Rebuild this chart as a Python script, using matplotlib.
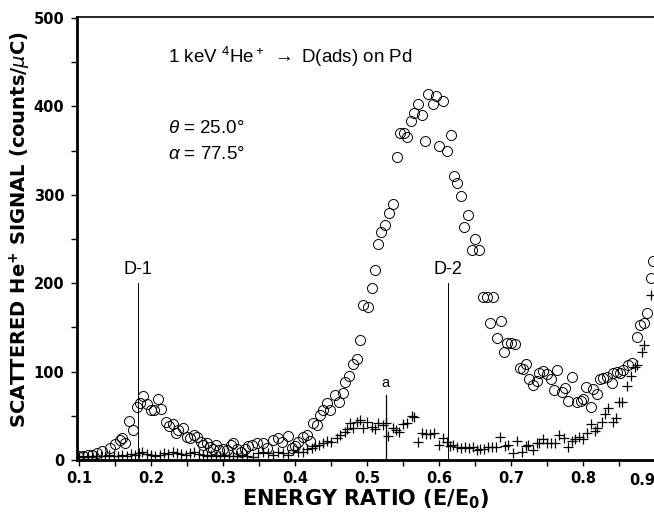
import matplotlib
matplotlib.use("Agg")
import matplotlib.pyplot as plt
from matplotlib.ticker import MultipleLocator

plt.rcParams['font.family'] = ['DejaVu Sans']
plt.rcParams['mathtext.fontset'] = 'custom'
plt.rcParams['mathtext.rm'] = 'Liberation Sans'
plt.rcParams['mathtext.it'] = 'Liberation Sans:italic'
plt.rcParams['mathtext.bf'] = 'Liberation Sans:bold'
ANN = ['Liberation Sans', 'DejaVu Sans']

# Circles: scattered signal with adsorbed deuterium
circ_x = [0.099, 0.106, 0.113, 0.118, 0.125, 0.132, 0.143, 0.150, 0.157, 0.160,
          0.164, 0.169, 0.175, 0.181, 0.185, 0.189, 0.194, 0.200, 0.204, 0.210,
          0.214, 0.221, 0.225, 0.231, 0.235, 0.238, 0.244, 0.250, 0.254, 0.260,
          0.264, 0.269, 0.272, 0.278, 0.282, 0.286, 0.290, 0.294, 0.300, 0.306,
          0.311, 0.314, 0.319, 0.325, 0.331, 0.335, 0.340, 0.347, 0.356, 0.361,
          0.369, 0.376, 0.382, 0.390, 0.396, 0.400, 0.404, 0.411, 0.417, 0.421,
          0.425, 0.431, 0.435, 0.439, 0.444, 0.449, 0.456, 0.461, 0.467, 0.469,
          0.475, 0.481, 0.486, 0.490, 0.494, 0.501, 0.507, 0.511, 0.515, 0.519,
          0.525, 0.531, 0.536, 0.542, 0.546, 0.551, 0.556, 0.561, 0.565, 0.571,
          0.576, 0.581, 0.585, 0.592, 0.596, 0.600, 0.606, 0.611, 0.617, 0.621,
          0.625, 0.631, 0.635, 0.640, 0.646, 0.650, 0.656, 0.661, 0.667, 0.671,
          0.675, 0.681, 0.686, 0.690, 0.694, 0.700, 0.706, 0.713, 0.717, 0.721,
          0.725, 0.731, 0.736, 0.739, 0.744, 0.750, 0.756, 0.760, 0.764, 0.771,
          0.775, 0.779, 0.785, 0.792, 0.797, 0.800, 0.804, 0.811, 0.814, 0.819,
          0.824, 0.828, 0.833, 0.840, 0.842, 0.847, 0.851, 0.856, 0.863, 0.868,
          0.875, 0.879, 0.885, 0.889, 0.894, 0.897]
circ_y = [5, 5, 6, 6, 8, 10, 14, 18, 23, 25,
          19, 44, 34, 60, 65, 72, 63, 56, 57, 69,
          58, 43, 38, 41, 30, 34, 36, 26, 25, 28,
          26, 20, 17, 19, 15, 13, 17, 11, 12, 11,
          17, 19, 13, 9, 12, 16, 17, 19, 19, 14,
          23, 25, 20, 27, 14, 16, 20, 26, 28, 22,
          42, 40, 51, 57, 64, 57, 73, 66, 76, 88,
          95, 109, 114, 136, 175, 173, 195, 215, 244, 258,
          266, 279, 290, 343, 370, 370, 365, 383, 392, 403,
          390, 361, 414, 403, 412, 355, 406, 350, 367, 321,
          313, 298, 264, 277, 238, 250, 238, 184, 184, 155,
          184, 138, 157, 122, 132, 132, 131, 104, 103, 109,
          92, 85, 89, 98, 101, 97, 92, 79, 102, 77,
          81, 67, 94, 66, 67, 69, 83, 60, 80, 75,
          92, 93, 94, 87, 98, 100, 98, 102, 107, 110,
          139, 153, 155, 166, 206, 225]

# Crosses: clean surface reference
cross_x = [0.100, 0.106, 0.112, 0.118, 0.124, 0.130, 0.136, 0.142, 0.148, 0.154,
           0.160, 0.166, 0.172, 0.178, 0.183, 0.188, 0.194, 0.200, 0.206, 0.212,
           0.218, 0.224, 0.230, 0.236, 0.242, 0.248, 0.254, 0.260, 0.266, 0.272,
           0.278, 0.284, 0.290, 0.296, 0.302, 0.308, 0.314, 0.320, 0.326, 0.333,
           0.342, 0.349, 0.356, 0.363, 0.369, 0.376, 0.383, 0.390, 0.397, 0.404,
           0.411, 0.417, 0.424, 0.428, 0.433, 0.439, 0.444, 0.450, 0.458, 0.463,
           0.469, 0.472, 0.476, 0.481, 0.486, 0.490, 0.494, 0.500, 0.507, 0.511,
           0.515, 0.522, 0.526, 0.529, 0.536, 0.540, 0.544, 0.550, 0.556, 0.562,
           0.565, 0.571, 0.576, 0.582, 0.588, 0.593, 0.600, 0.606, 0.611, 0.615,
           0.619, 0.625, 0.631, 0.636, 0.642, 0.647, 0.653, 0.657, 0.663, 0.668,
           0.674, 0.679, 0.685, 0.692, 0.696, 0.703, 0.708, 0.715, 0.721, 0.724,
           0.731, 0.736, 0.739, 0.744, 0.750, 0.756, 0.761, 0.767, 0.774, 0.779,
           0.785, 0.789, 0.794, 0.800, 0.806, 0.811, 0.817, 0.819, 0.826, 0.831,
           0.835, 0.842, 0.846, 0.850, 0.854, 0.861, 0.867, 0.872, 0.875, 0.882,
           0.885, 0.894]
cross_y = [3, 4, 3, 5, 4, 5, 4, 6, 5, 4,
           6, 5, 7, 6, 8, 9, 7, 6, 5, 6,
           8, 7, 9, 8, 7, 6, 8, 9, 7, 6,
           5, 6, 5, 4, 6, 5, 4, 5, 6, 5,
           3, 8, 9, 8, 6, 9, 8, 6, 11, 9,
           9, 12, 14, 16, 17, 19, 22, 20, 25, 28,
           32, 35, 42, 36, 43, 45, 36, 43, 37, 35,
           42, 40, 42, 27, 36, 34, 32, 41, 42, 50,
           49, 20, 31, 29, 29, 31, 17, 25, 20, 16,
           17, 15, 14, 15, 14, 15, 11, 13, 13, 15,
           15, 15, 26, 16, 17, 8, 22, 9, 16, 17,
           11, 19, 19, 24, 19, 19, 19, 28, 25, 15,
           22, 24, 26, 24, 31, 41, 33, 36, 43, 52,
           59, 43, 48, 66, 66, 84, 95, 105, 107, 122,
           130, 187]

# Axis tick labels
x_ticks = [0.1, 0.2, 0.3, 0.4, 0.5, 0.6, 0.7, 0.8]
x_ticklabels = ['0.1', '0.2', '0.3', '0.4', '0.5', '0.6', '0.7', '0.8']
y_ticks = [0, 100, 200, 300, 400, 500]
y_ticklabels = ['0', '100', '200', '300', '400', '500']

# Peak markers
d1_x, d1_top = 0.182, 200
d2_x, d2_top = 0.6125, 200
a_x, a_top = 0.526, 74

fig = plt.figure(figsize=(6.54, 5.15), dpi=100)
ax = fig.add_axes([0.1177, 0.1068, 0.8823, 0.8602])

ax.plot(circ_x, circ_y, linestyle='none', marker='o', markersize=7.2,
        markerfacecolor='none', markeredgecolor='black', markeredgewidth=0.7)
ax.plot(cross_x, cross_y, linestyle='none', marker='+', markersize=6.5,
        color='black', markeredgewidth=0.9)

ax.plot([d1_x, d1_x], [0, d1_top], color='black', linewidth=0.7)
ax.plot([d2_x, d2_x], [0, d2_top], color='black', linewidth=0.7)
ax.plot([a_x, a_x], [0, a_top], color='black', linewidth=0.9)
ax.text(d1_x, d1_top + 6, 'D-1', ha='center', va='bottom', fontsize=13, family=ANN)
ax.text(d2_x, d2_top + 6, 'D-2', ha='center', va='bottom', fontsize=13, family=ANN)
ax.text(a_x, a_top + 5, 'a', ha='center', va='bottom', fontsize=10.5, family=ANN)

ax.text(0.224, 456, r'1 keV $^4$He$^+$ $\rightarrow$ D(ads) on Pd',
        fontsize=13.5, va='center', ha='left', family=ANN)
ax.text(0.224, 375, r'$\theta$ = 25.0°', fontsize=13.5, va='center', ha='left', family=ANN)
ax.text(0.224, 346, r'$\alpha$ = 77.5°', fontsize=13.5, va='center', ha='left', family=ANN)

ax.set_xlim(0.0972, 0.8986)
ax.set_ylim(0, 501)
ax.xaxis.set_minor_locator(MultipleLocator(0.05))
ax.yaxis.set_minor_locator(MultipleLocator(50))
ax.set_xticks(x_ticks)
ax.set_xticklabels(x_ticklabels)
ax.set_yticks(y_ticks)
ax.set_yticklabels(y_ticklabels)
ax.tick_params(which='both', direction='out', length=4, width=1.0)
ax.tick_params(axis='x', labelsize=10.5, pad=4)
ax.tick_params(axis='y', labelsize=10.5, pad=5)
for lab in ax.get_xticklabels() + ax.get_yticklabels():
    lab.set_fontweight('bold')
ax.text(0.882, -15, '0.9', ha='center', va='top',
        fontsize=10.5, fontweight='bold', clip_on=False)

ax.spines['right'].set_visible(False)
ax.spines['left'].set_linewidth(2.0)
ax.spines['bottom'].set_linewidth(2.0)
ax.spines['top'].set_linewidth(1.2)

ax.set_xlabel(r'ENERGY RATIO (E/E$_\mathbf{0}$)', fontsize=15, fontweight='bold',
              math_fontfamily='dejavusans')
ax.set_ylabel(r'SCATTERED He$^\mathbf{+}$ SIGNAL (counts/$\mu$C)', fontsize=14,
              fontweight='bold', math_fontfamily='dejavusans')
ax.xaxis.set_label_coords(0.5, -0.062)
ax.yaxis.set_label_coords(-0.077, 0.52)

fig.savefig('out.png', dpi=100)
